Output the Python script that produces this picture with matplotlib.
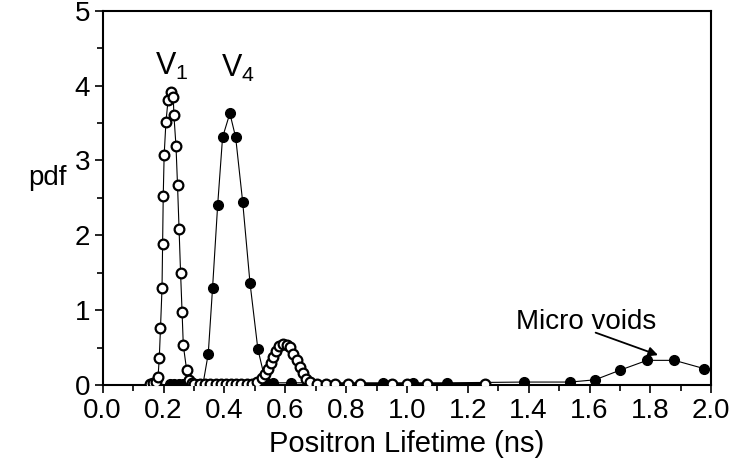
import matplotlib
matplotlib.use("Agg")
import matplotlib.pyplot as plt
from matplotlib.ticker import MultipleLocator

plt.rcParams["font.family"] = ["Liberation Sans", "DejaVu Sans"]
plt.rcParams["mathtext.fontset"] = "custom"
plt.rcParams["mathtext.rm"] = "Liberation Sans"
plt.rcParams["mathtext.it"] = "Liberation Sans"

# V1 (open circles): lifetime (ns), pdf
v1_tau = [0.155, 0.165, 0.174, 0.182, 0.186, 0.190, 0.195, 0.197, 0.199, 0.202,
          0.208, 0.215, 0.223, 0.232, 0.234, 0.241, 0.246, 0.251, 0.256, 0.261,
          0.265, 0.276, 0.284, 0.292, 0.300, 0.320, 0.337, 0.354, 0.371, 0.388,
          0.405, 0.422, 0.439, 0.456, 0.473, 0.490, 0.506, 0.522, 0.533, 0.544,
          0.552, 0.560, 0.569, 0.580, 0.593, 0.606, 0.617, 0.626, 0.637, 0.648,
          0.657, 0.668, 0.681, 0.703, 0.735, 0.765, 0.805, 0.845, 0.950, 1.000,
          1.065, 1.257]
v1_pdf = [0.02, 0.03, 0.04, 0.11, 0.36, 0.76, 1.29, 1.89, 2.52, 3.07,
          3.52, 3.81, 3.91, 3.85, 3.61, 3.19, 2.67, 2.09, 1.50, 0.97,
          0.53, 0.20, 0.07, 0.03, 0.02, 0.02, 0.02, 0.02, 0.02, 0.02,
          0.02, 0.02, 0.02, 0.02, 0.02, 0.02, 0.04, 0.10, 0.15, 0.22,
          0.29, 0.37, 0.45, 0.52, 0.55, 0.53, 0.51, 0.42, 0.34, 0.24,
          0.16, 0.08, 0.04, 0.02, 0.02, 0.02, 0.02, 0.02, 0.02, 0.02,
          0.02, 0.02]

# V4 (filled circles)
v4_tau = [0.220, 0.235, 0.250, 0.265, 0.280, 0.295, 0.310, 0.330, 0.347, 0.361,
          0.378, 0.394, 0.418, 0.437, 0.460, 0.484, 0.510, 0.535, 0.560, 0.620,
          0.920, 1.020, 1.130, 1.385, 1.536, 1.618, 1.701, 1.789, 1.879, 1.976]
v4_pdf = [0.02, 0.02, 0.02, 0.02, 0.02, 0.02, 0.02, 0.02, 0.42, 1.29,
          2.41, 3.31, 3.63, 3.31, 2.45, 1.37, 0.48, 0.05, 0.03, 0.03,
          0.03, 0.03, 0.03, 0.04, 0.04, 0.07, 0.20, 0.33, 0.33, 0.22]

fig = plt.figure(figsize=(7.44, 4.69), dpi=100)
ax = fig.add_axes([0.138, 0.179, 0.818, 0.798])

ax.plot(v4_tau, v4_pdf, "-", color="black", lw=0.8, marker="o", ms=7,
        mfc="black", mec="black", zorder=3)
ax.plot(v1_tau, v1_pdf, "-", color="black", lw=0.8, marker="o", ms=7,
        mfc="white", mec="black", mew=1.6, zorder=4)

ax.set_xlim(0, 2.0)
ax.set_ylim(0, 5)
ax.xaxis.set_major_locator(MultipleLocator(0.2))
ax.xaxis.set_minor_locator(MultipleLocator(0.1))
ax.yaxis.set_major_locator(MultipleLocator(1))
ax.yaxis.set_minor_locator(MultipleLocator(0.5))
ax.xaxis.set_major_formatter(lambda v, p: f"{v:.1f}")
ax.tick_params(which="both", direction="out", width=1.2, labelsize=20,
               top=False, right=False, pad=3)
ax.tick_params(which="major", length=6)
ax.tick_params(which="minor", length=4)
for s in ax.spines.values():
    s.set_linewidth(1.5)

ax.set_xlabel("Positron Lifetime (ns)", fontsize=21, labelpad=5)
ax.set_ylabel("pdf", fontsize=20, rotation=0, va="center")
ax.yaxis.set_label_coords(-0.09, 0.553)

ax.text(0.227, 4.05, "V$_1$", fontsize=22, ha="center", va="bottom")
ax.text(0.444, 4.02, "V$_4$", fontsize=22, ha="center", va="bottom")
ax.text(1.59, 0.84, "Micro voids", fontsize=20, ha="center", va="center")
ax.annotate("", xy=(1.825, 0.40), xytext=(1.62, 0.70),
            arrowprops=dict(arrowstyle="-|>", color="black", lw=1.3,
                            shrinkA=0, shrinkB=0, mutation_scale=14))

fig.savefig("out.png", dpi=100, facecolor="white")
